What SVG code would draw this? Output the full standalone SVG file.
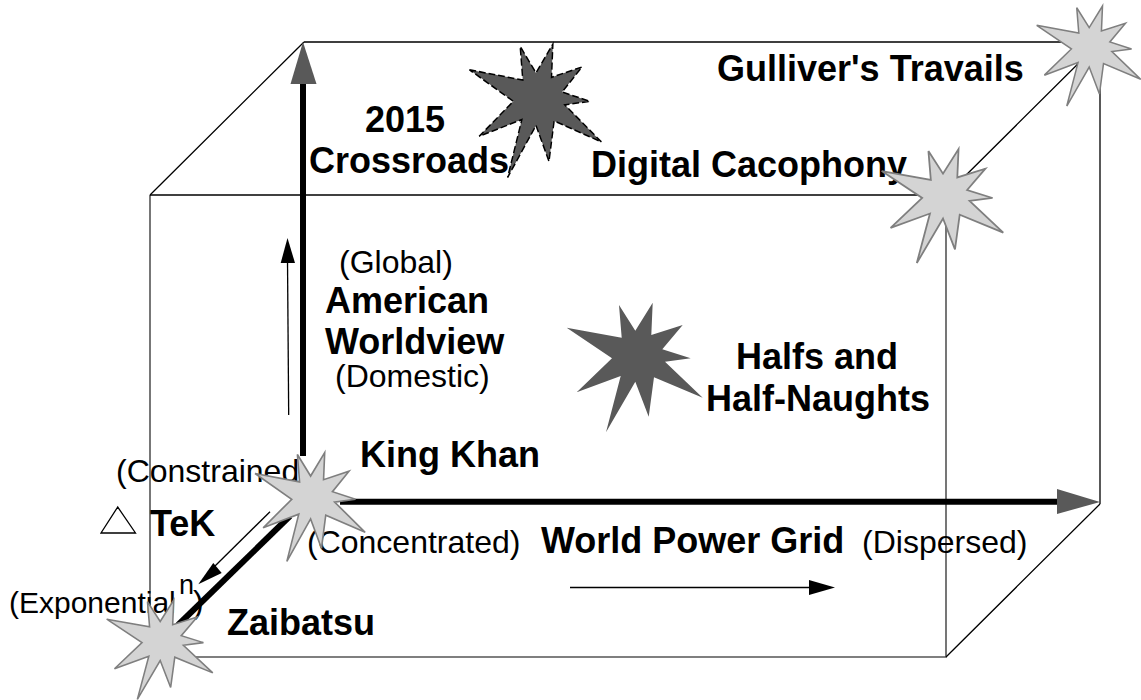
<svg xmlns="http://www.w3.org/2000/svg" width="1141" height="700" viewBox="0 0 1141 700">
<style>
text{font-family:"Liberation Sans",Arial,sans-serif;fill:#000}
.b{font-weight:bold;font-size:36px}
.r{font-size:32px}
.box{fill:none;stroke:#000;stroke-width:1.3}
.front{fill:none;stroke:#555;stroke-width:1.6}
.thick{fill:none;stroke:#000;stroke-width:6}
.thin{fill:none;stroke:#000;stroke-width:1.3}
.hg{fill:#595959}
.light{fill:#d4d4d4;stroke:#7f7f7f;stroke-width:2;vector-effect:non-scaling-stroke}
.dark{fill:#595959}
.dash{fill:#595959;stroke:#000;stroke-width:1.5;stroke-dasharray:7 3;vector-effect:non-scaling-stroke}
</style>
<defs>
<polygon id="star" points="-68.6,-30.3 -13.6,-20.3 -16.3,-53 0,-27.3 17.4,-55.3 16,-23 47.4,-33 27,-8.7 55.4,0.3 29.7,3.7 67.4,39.7 18.7,19.3 13.4,58.7 0,23.7 -29.3,74.3 -14.6,18 -58.6,34.3 -23.3,0.3"/>
</defs>
<g id="connectors">
<path class="front" d="M150 195V657H946V195"/>
<path class="box" d="M150 195H946"/>
<path class="box" d="M304 42H1100V504"/>
<path class="box" d="M150 195L304 42M946 195L1100 42M946 657L1100 504"/>
<path class="thick" d="M303 456V84"/>
<polygon class="hg" points="303,42 316.500,84 290.500,84"/>
<path class="thick" d="M340 501.700H1058"/>
<polygon class="hg" points="1100,502 1057,489 1057,514"/>
<path class="thick" d="M290 516L178 625"/>
<path class="thin" d="M288.700 415L287.500 260"/>
<polygon points="287.500,238 295,263 280.700,263"/>
<path class="thin" d="M570 587.500H812"/>
<polygon points="835,587.500 809,580 809,595"/>
<path class="thin" d="M270 511.700L215 566"/>
<polygon points="198.300,584.300 213.300,563 221.700,573"/>
</g>
<g id="tek-triangle"><polygon style="fill:none;stroke:#000;stroke-width:1.3" points="117.700,507 101,533 135.500,533"/></g>
<g id="labels">
<text class="b" x="365" y="132">2015</text>
<text class="b" x="309" y="173">Crossroads</text>
<text class="b" x="717" y="80.500">Gulliver's Travails</text>
<text class="b" x="591" y="177">Digital Cacophony</text>
<text class="r" x="339" y="273">(Global)</text>
<text class="b" x="325" y="312.500">American</text>
<text class="b" x="325" y="354">Worldview</text>
<text class="r" x="335" y="387">(Domestic)</text>
<text class="b" x="736" y="369">Halfs and</text>
<text class="b" x="706" y="410.500">Half-Naughts</text>
<text class="b" x="360" y="467">King Khan</text>
<text class="r" x="116" y="482">(Constrained</text>
<text class="b" x="150" y="536">TeK</text>
<text class="r" x="307" y="552.500">(Concentrated)</text>
<text class="b" x="541" y="552.500">World Power Grid</text>
<text class="r" x="862" y="552.500">(Dispersed)</text>
<text style="font-size:30px" x="9" y="612.500">(Exponential</text>
<text style="font-size:27px" x="179" y="594">n</text>
<text class="r" x="193" y="612.500">)</text>
<text class="b" x="227" y="634.500">Zaibatsu</text>
</g>
<g id="star-2015"><use href="#star" class="dash" transform="translate(536 101) scale(.97 1.03)"/></g>
<g id="star-gulliver"><use href="#star" class="light" transform="translate(1089.200 48.700) scale(.765 .772)"/></g>
<g id="star-digital"><use href="#star" class="light" transform="translate(943 197.700) scale(.894 .88)"/></g>
<g id="star-halfs"><use href="#star" class="dark" transform="translate(635.300 358)"/></g>
<g id="star-king"><use href="#star" class="light" transform="translate(310.600 499) scale(.81 .84)"/></g>
<g id="star-zaibatsu"><use href="#star" class="light" transform="translate(160.200 642.400) scale(.78 .767)"/></g>
</svg>
